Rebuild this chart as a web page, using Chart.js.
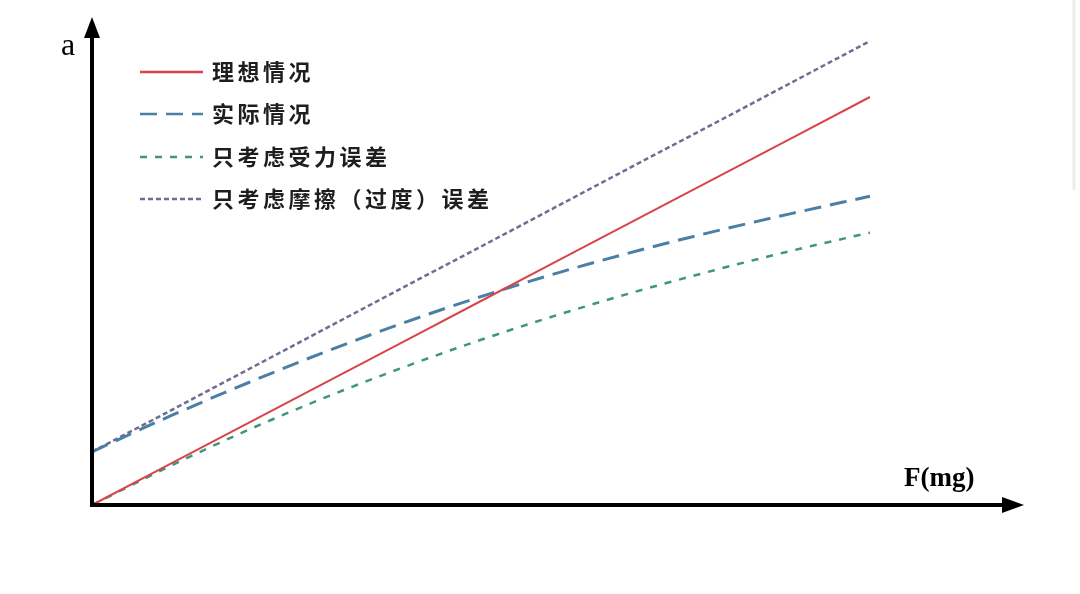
<!DOCTYPE html>
<html>
<head>
<meta charset="utf-8">
<script src="https://cdn.jsdelivr.net/npm/chart.js@4/dist/chart.umd.min.js"></script>
<style>
  html, body { margin: 0; padding: 0; background: #fff; }
  #wrap { width: 1080px; height: 594px; position: relative; }
</style>
</head>
<body>
<div id="wrap"><canvas id="myChart" width="1080" height="594"></canvas></div>
<script>
// force values (arbitrary units along F axis)
var forceValues = [0, 1, 2, 3, 4, 5, 6, 7, 8, 9, 10];
// acceleration for each case
var idealValues    = [0, 1.02, 2.04, 3.06, 4.08, 5.1, 6.12, 7.14, 8.16, 9.18, 10.2];
var actualValues   = [1.33, 2.22, 3.05, 3.83, 4.55, 5.21, 5.81, 6.35, 6.84, 7.29, 7.72];
var forceErrValues = [0, 0.97, 1.87, 2.69, 3.44, 4.13, 4.76, 5.34, 5.87, 6.36, 6.81];
var frictionValues = [1.33, 2.35, 3.38, 4.41, 5.44, 6.46, 7.49, 8.52, 9.54, 10.57, 11.6];
var seriesLabels = ['理想情况', '实际情况', '只考虑受力误差', '只考虑摩擦（过度）误差'];

function pts(vals){
	var out = [];
	for (var i = 0; i < forceValues.length; i++) {
		out.push({x: forceValues[i], y: vals[i]});
	}
	return out;
}

var axesPlugin = {
	id: 'axesPlugin',
	afterDatasetsDraw: function(chart){
		var ctx = chart.ctx;
		var x0 = chart.scales.x.getPixelForValue(0);
		var y0 = chart.scales.y.getPixelForValue(0);
		ctx.save();
		ctx.strokeStyle = '#000';
		ctx.fillStyle = '#000';
		ctx.lineWidth = 4;
		ctx.lineCap = 'butt';
		// y axis
		ctx.beginPath();
		ctx.moveTo(x0, y0 + 2);
		ctx.lineTo(x0, 34);
		ctx.stroke();
		ctx.beginPath();
		ctx.moveTo(x0, 17);
		ctx.lineTo(x0 - 8, 38);
		ctx.lineTo(x0 + 8, 38);
		ctx.closePath();
		ctx.fill();
		// x axis
		ctx.beginPath();
		ctx.moveTo(x0 - 2, y0);
		ctx.lineTo(1006, y0);
		ctx.stroke();
		ctx.beginPath();
		ctx.moveTo(1024, y0);
		ctx.lineTo(1002, y0 - 8);
		ctx.lineTo(1002, y0 + 8);
		ctx.closePath();
		ctx.fill();
		// axis names
		ctx.font = '32px "Liberation Serif"';
		ctx.textBaseline = 'alphabetic';
		ctx.fillText('a', 61, 55);
		ctx.font = 'bold 27px "Liberation Serif"';
		ctx.fillText('F(mg)', 904, 486);
		// faint border at right edge
		ctx.strokeStyle = '#ececec';
		ctx.lineWidth = 3;
		ctx.beginPath();
		ctx.moveTo(1074, 0);
		ctx.lineTo(1074, 190);
		ctx.stroke();
		ctx.restore();
	}
};

var legendPlugin = {
	id: 'legendPlugin',
	afterDraw: function(chart){
		var ctx = chart.ctx;
		var rows = [72, 114, 157, 199];
		ctx.save();
		chart.data.datasets.forEach(function(ds, i){
			var y = rows[i];
			ctx.strokeStyle = ds.borderColor;
			ctx.lineWidth = 2.5;
			ctx.setLineDash(ds.borderDash || []);
			ctx.beginPath();
			ctx.moveTo(140, y);
			ctx.lineTo(203, y);
			ctx.stroke();
			ctx.setLineDash([]);
			ctx.fillStyle = '#1e1e1e';
			ctx.font = 'bold 22px "Noto Sans CJK SC"';
			ctx.letterSpacing = '3.5px';
			ctx.textBaseline = 'middle';
			ctx.fillText(ds.label, 212, y);
		});
		ctx.restore();
	}
};

var ctx = document.getElementById('myChart').getContext('2d');
var myChart = new Chart(ctx, {
	type: 'line',
	data: {
		datasets: [
			{
				label: seriesLabels[0],
				data: pts(idealValues),
				borderColor: '#d9444a',
				borderWidth: 2,
				pointRadius: 0,
				clip: false
			},
			{
				label: seriesLabels[1],
				data: pts(actualValues),
				borderColor: '#4a7fa6',
				borderWidth: 3,
				borderDash: [17, 9],
				pointRadius: 0,
				cubicInterpolationMode: 'monotone',
				clip: false
			},
			{
				label: seriesLabels[2],
				data: pts(forceErrValues),
				borderColor: '#3f9678',
				borderWidth: 2.5,
				borderDash: [7, 8],
				pointRadius: 0,
				cubicInterpolationMode: 'monotone',
				clip: false
			},
			{
				label: seriesLabels[3],
				data: pts(frictionValues),
				borderColor: '#6d6c93',
				borderWidth: 2.5,
				borderDash: [5, 3],
				pointRadius: 0,
				clip: false
			}
		]
	},
	options: {
		responsive: false,
		animation: false,
		devicePixelRatio: 1,
		layout: { padding: { left: 92, right: 70, top: 25, bottom: 89 } },
		plugins: {
			legend: { display: false },
			tooltip: { enabled: false }
		},
		scales: {
			x: { type: 'linear', min: 0, max: 11.8, display: false },
			y: { type: 'linear', min: 0, max: 12, display: false }
		}
	},
	plugins: [axesPlugin, legendPlugin]
});
</script>
</body>
</html>
